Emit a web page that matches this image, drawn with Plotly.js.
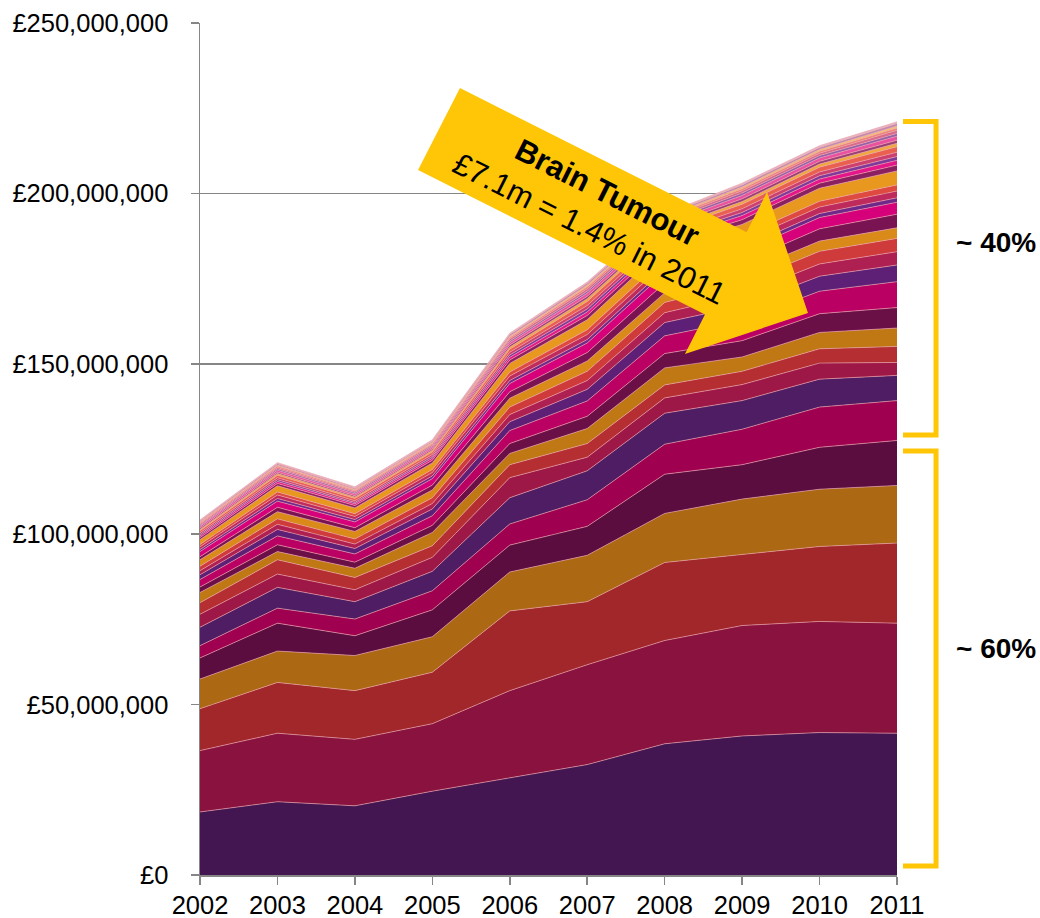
<!DOCTYPE html>
<html>
<head>
<meta charset="utf-8">
<script src="https://cdn.plot.ly/plotly-3.0.1.min.js"></script>
<style>
  html, body { margin: 0; padding: 0; background: #ffffff; }
  #chart { width: 1040px; height: 918px; }
</style>
</head>
<body>
<div id="chart"></div>
<script>
// ---- data (values in £ millions) ----
const years = [2002, 2003, 2004, 2005, 2006, 2007, 2008, 2009, 2010, 2011];

const L01 = [18.5, 21.5, 20.3, 24.6, 28.5, 32.4, 38.5, 40.8, 41.8, 41.6];
const L02 = [18.0, 20.1, 19.5, 19.8, 25.6, 29.3, 30.3, 32.4, 32.6, 32.3];
const L03 = [12.3, 14.9, 14.3, 15.1, 23.4, 18.5, 22.9, 20.8, 22.0, 23.5];
const L04 = [8.7, 9.2, 10.3, 10.4, 11.4, 13.6, 14.4, 16.3, 16.8, 16.9];
const L05 = [6.2, 8.2, 5.8, 7.9, 7.9, 8.5, 11.5, 10.1, 12.3, 13.2];
const L06 = [3.6, 4.4, 4.9, 5.6, 6.2, 7.8, 8.8, 10.4, 11.8, 11.7];
const L07 = [5.4, 6.1, 5.1, 5.7, 7.7, 8.5, 9.1, 8.4, 8.2, 7.4];
const L08 = [3.8, 3.9, 3.5, 4.1, 5.9, 4.0, 4.5, 4.7, 4.7, 3.8];
const L09 = [3.4, 4.2, 3.6, 3.4, 3.8, 4.0, 3.8, 3.9, 4.2, 4.7];
const L10 = [3.0, 2.4, 2.7, 3.9, 3.3, 4.4, 5.0, 4.2, 4.8, 5.4];
const L11 = [1.6, 2.0, 1.8, 2.1, 2.9, 3.6, 4.2, 4.8, 5.5, 6.0];
const L12 = [2.2, 2.6, 2.4, 2.8, 3.8, 4.5, 5.2, 6.0, 6.6, 7.6];
const L13 = [1.4, 1.9, 1.6, 2.0, 2.6, 3.4, 3.9, 4.2, 4.4, 4.9];
const L14 = [1.2, 1.5, 1.3, 1.6, 2.1, 2.6, 2.9, 3.3, 3.6, 3.9];
const L15 = [1.3, 1.6, 1.5, 1.7, 2.2, 2.7, 3.0, 3.4, 3.7, 3.9];
const L16 = [1.9, 2.1, 2.2, 2.3, 2.6, 3.0, 2.8, 2.9, 3.0, 3.1];
const L17 = [0.9, 1.3, 1.1, 1.4, 1.9, 2.5, 2.9, 3.2, 3.6, 4.0];
const L18 = [1.5, 1.8, 1.7, 1.9, 2.4, 2.8, 3.0, 3.1, 3.3, 3.5];
const L19 = [0.6, 0.8, 0.7, 0.8, 0.9, 1.0, 1.1, 1.2, 1.2, 1.3];
const L20 = [0.8, 1.0, 0.9, 1.0, 1.3, 1.5, 1.6, 1.8, 1.9, 2.0];
const L21 = [0.7, 0.9, 0.8, 0.9, 1.2, 1.4, 1.5, 1.6, 1.7, 1.8];
const L22 = [1.4, 1.8, 1.7, 1.9, 2.5, 2.9, 3.1, 3.4, 3.8, 4.1];
const L23 = [0.6, 0.7, 0.7, 0.8, 1.0, 1.3, 1.2, 1.4, 1.5, 1.7];
const L24 = [0.5, 0.6, 0.5, 0.6, 0.8, 1.0, 0.9, 1.2, 1.2, 1.4];
const L25 = [0.4, 0.5, 0.4, 0.5, 0.7, 0.9, 0.8, 0.9, 1.0, 1.1];
const L26 = [0.5, 0.6, 0.5, 0.6, 0.8, 1.0, 0.9, 1.1, 1.1, 1.3];
const L27 = [0.6, 0.7, 0.7, 0.7, 0.9, 1.2, 1.1, 1.3, 1.4, 1.6];
const L28 = [0.4, 0.5, 0.4, 0.5, 0.6, 0.8, 0.7, 0.8, 0.9, 1.0];
const L29 = [0.4, 0.4, 0.4, 0.4, 0.6, 0.7, 0.6, 0.8, 0.8, 0.9];
const L30 = [0.5, 0.6, 0.5, 0.5, 0.7, 0.9, 0.8, 1.0, 1.0, 1.2];
const L31 = [0.3, 0.4, 0.4, 0.4, 0.5, 0.6, 0.6, 0.7, 0.7, 0.8];
const L32 = [0.4, 0.4, 0.4, 0.4, 0.6, 0.7, 0.6, 0.7, 0.7, 0.9];
const L33 = [0.3, 0.4, 0.3, 0.3, 0.4, 0.6, 0.5, 0.6, 0.6, 0.7];
const L34 = [0.3, 0.3, 0.3, 0.4, 0.4, 0.5, 0.4, 0.5, 0.5, 0.6];
const L35 = [0.3, 0.4, 0.3, 0.3, 0.5, 0.5, 0.5, 0.6, 0.6, 0.7];
const L36 = [0.3, 0.3, 0.4, 0.4, 0.4, 0.4, 0.4, 0.5, 0.5, 0.5];

const layers = [L01, L02, L03, L04, L05, L06, L07, L08, L09, L10, L11, L12,
                L13, L14, L15, L16, L17, L18, L19, L20, L21, L22, L23, L24,
                L25, L26, L27, L28, L29, L30, L31, L32, L33, L34, L35, L36];

const yTickVals = [0, 50, 100, 150, 200, 250];
const yTickText = ['£0', '£50,000,000', '£100,000,000', '£150,000,000', '£200,000,000', '£250,000,000'];

const bracketLabels = ['~ 40%', '~ 60%'];
const arrowTitle = 'Brain Tumour';
const arrowText = '£7.1m = 1.4% in 2011';

// ---- styling ----
const palette = [
  '#431652', '#89123F', '#A2272B', '#AC6813', '#5B0D3F', '#A00050',
  '#4E1D63', '#9D1847', '#B52F32', '#C07815', '#6B0F47', '#BB0063',
  '#5D2076', '#AE1F52', '#CF3A3A', '#D98A18', '#7A1352', '#D5007A',
  '#6D288A', '#BE2A5C', '#DE4A40', '#E8981E', '#8A2060', '#E4168A',
  '#7E3A9A', '#CC4070', '#EA6050', '#F0A840', '#9A4075', '#EC50A0',
  '#9560AA', '#D86A8C', '#F08478', '#F4C070', '#C08AB0', '#E8B8C4'
];

const traces = layers.map((vals, i) => ({
  type: 'scatter',
  mode: 'lines',
  x: years,
  y: vals,
  stackgroup: 'one',
  fillcolor: palette[i],
  line: { color: 'rgba(235,160,170,0.8)', width: 0.8, shape: 'linear' },
  hoverinfo: 'skip',
  showlegend: false
}));

// plot area in pixels
const PX0 = 200, PX1 = 897, PY0 = 23, PY1 = 875;
const px = x => (x - PX0) / (PX1 - PX0);
const py = y => (PY1 - y) / (PY1 - PY0);
function path(pts) {
  return pts.map((p, i) => (i ? 'L' : 'M') + px(p[0]).toFixed(4) + ',' + py(p[1]).toFixed(4)).join(' ');
}

const yellow = '#FFC608';
const arrowPts = [[460, 88], [746.6, 232.3], [767, 192], [808, 313], [685, 354], [705, 314.5], [418, 170]];

const shapes = [
  { type: 'path', xref: 'paper', yref: 'paper', path: path(arrowPts) + ' Z',
    fillcolor: yellow, line: { width: 0 }, layer: 'above' },
  { type: 'path', xref: 'paper', yref: 'paper',
    path: path([[903, 121.5], [936, 121.5], [936, 435], [903, 435]]),
    line: { color: yellow, width: 5 }, layer: 'above' },
  { type: 'path', xref: 'paper', yref: 'paper',
    path: path([[903, 451], [936, 451], [936, 866], [903, 866]]),
    line: { color: yellow, width: 5 }, layer: 'above' }
];

const FONT = '"Liberation Sans", Arial, sans-serif';

const annotations = [
  { xref: 'paper', yref: 'paper', x: px(598), y: py(211),
    xanchor: 'center', yanchor: 'middle', showarrow: false, textangle: 26.7,
    text: '<b>' + arrowTitle + '</b><br>' + arrowText, align: 'center',
    font: { family: FONT, size: 31, color: '#000000' } },
  { xref: 'paper', yref: 'paper', x: px(996), y: py(243),
    xanchor: 'center', yanchor: 'middle', showarrow: false,
    text: '<b>' + bracketLabels[0] + '</b>',
    font: { family: FONT, size: 28, color: '#000000' } },
  { xref: 'paper', yref: 'paper', x: px(996), y: py(648),
    xanchor: 'center', yanchor: 'middle', showarrow: false,
    text: '<b>' + bracketLabels[1] + '</b>',
    font: { family: FONT, size: 28, color: '#000000' } }
];

const layout = {
  width: 1040, height: 918,
  margin: { l: PX0, r: 1040 - PX1, t: PY0, b: 918 - PY1, pad: 0 },
  paper_bgcolor: '#ffffff', plot_bgcolor: '#ffffff',
  font: { family: FONT, size: 26, color: '#000000' },
  showlegend: false,
  xaxis: {
    type: 'linear', range: [2002, 2011], tickvals: years, ticktext: years.map(String),
    showgrid: false, zeroline: false,
    showline: true, linecolor: '#868686', linewidth: 1.5,
    ticks: 'outside', ticklen: 8, tickwidth: 1.5, tickcolor: '#868686',
    ticklabelstandoff: -1,
    tickfont: { family: FONT, size: 25.5, color: '#000000' }
  },
  yaxis: {
    range: [0, 250], tickvals: yTickVals, ticktext: yTickText,
    showgrid: true, gridcolor: '#868686', gridwidth: 1.5, zeroline: false,
    showline: true, linecolor: '#868686', linewidth: 1.5,
    ticks: 'outside', ticklen: 8, tickwidth: 1.5, tickcolor: '#868686',
    ticklabelstandoff: 17,
    tickfont: { family: FONT, size: 25.5, color: '#000000' }
  },
  shapes: shapes,
  annotations: annotations
};

Plotly.newPlot('chart', traces, layout, { staticPlot: true, displayModeBar: false });
</script>
</body>
</html>
